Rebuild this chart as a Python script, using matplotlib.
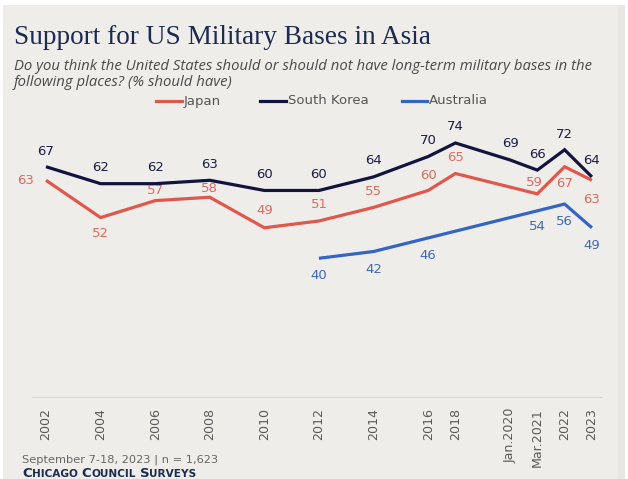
import matplotlib
matplotlib.use("Agg")
import matplotlib.pyplot as plt
from matplotlib.patches import Rectangle
from matplotlib.lines import Line2D

# ---------------- data ----------------
periods = ["2002", "2004", "2006", "2008", "2010", "2012", "2014", "2016",
           "2018", "Jan.2020", "Mar.2021", "2022", "2023"]
japan = [63, 52, 57, 58, 49, 51, 55, 60, 65, None, 59, 67, 63]
south_korea = [67, 62, 62, 63, 60, 60, 64, 70, 74, 69, 66, 72, 64]
australia = [None, None, None, None, None, 40, 42, 46, None, None, 54, 56, 49]

# axis positions (time-like spacing used in the original)
xpos = [0, 2, 4, 6, 8, 10, 12, 14, 15, 17, 18, 19, 20]

W, H = 628, 479
fig = plt.figure(figsize=(W / 100, H / 100), dpi=100)
fig.patch.set_facecolor("white")
BG = "#efedea"
fig.add_artist(Rectangle((3 / W, 0), (622 / W), (474 / H), transform=fig.transFigure,
                         facecolor=BG, edgecolor="none", zorder=0))
fig.add_artist(Rectangle((618 / W, 0), (7 / W), (474 / H), transform=fig.transFigure,
                         facecolor="#e9e7e3", edgecolor="none", zorder=0))

def px2fig(x, y):
    return x / W, 1 - y / H

# axes placement in pixels
ax_l, ax_r, ax_t, ax_b = 32, 602, 115, 397
ax = fig.add_axes([ax_l / W, 1 - ax_b / H, (ax_r - ax_l) / W, (ax_b - ax_t) / H])
ax.set_facecolor("none")
ax.set_xlim(-0.513, 20.37)
ax.set_ylim(-0.9, 82.25)
for s in ["top", "right", "left"]:
    ax.spines[s].set_visible(False)
ax.spines["bottom"].set_color("#d9d7d3")
ax.spines["bottom"].set_linewidth(0.8)
ax.set_yticks([])
ax.set_xticks(xpos)
ax.set_xticklabels(periods, rotation=90, fontsize=9.1, color="#5a5a5a",
                   family="DejaVu Sans", va="top")
ax.tick_params(axis="x", length=0, pad=8)

JP_C, SK_C, AU_C = "#e0574c", "#12143d", "#3464c4"
JP_T, SK_T, AU_T = "#e06a5f", "#1a1c45", "#3f68b5"

def series(vals):
    xs = [x for x, v in zip(xpos, vals) if v is not None]
    ys = [v for v in vals if v is not None]
    return xs, ys

for vals, c in [(australia, AU_C), (japan, JP_C), (south_korea, SK_C)]:
    xs, ys = series(vals)
    ax.plot(xs, ys, color=c, lw=2.3, solid_capstyle="butt", solid_joinstyle="miter", zorder=3)

# label offsets (pixels)
jp_off = [(-20, 0), (0, -16), (0, 10), (0, 9), (0, 17), (0, 16), (0, 16), (0, 15),
          (0, 16), None, (-3, 11), (0, -17), (0, -19)]
sk_off = [(0, 15), (0, 16), (0, 16), (0, 16), (0, 16), (0, 16), (0, 16), (0, 16),
          (0, 16), (0, 16), (0, 16), (0, 15), (0, 16)]
au_off = [None] * 5 + [(0, -17), (0, -18), (0, -18), None, None, (0, -16), (0, -17), (0, -18)]

LBL_FONT = "DejaVu Sans"
for vals, offs, c in [(japan, jp_off, JP_T), (south_korea, sk_off, SK_T), (australia, au_off, AU_T)]:
    for x, v, o in zip(xpos, vals, offs):
        if v is None or o is None:
            continue
        ax.annotate(str(v), (x, v), xytext=o, textcoords="offset pixels",
                    ha="center", va="center", fontsize=9.5, color=c,
                    family=LBL_FONT, zorder=4, annotation_clip=False)

# ---------------- titles ----------------
fig.text(*px2fig(14, 38), "Support for US Military Bases in Asia", fontsize=19.6,
         family="Liberation Serif", color="#1d2b4f", va="center", ha="left")
fig.text(*px2fig(14, 67), "Do you think the United States should or should not have long-term military bases in the",
         fontsize=10.7, family="Open Sans", style="italic", color="#4a4a4a", va="center", ha="left")
fig.text(*px2fig(14, 83), "following places? (% should have)",
         fontsize=10.7, family="Open Sans", style="italic", color="#4a4a4a", va="center", ha="left")

# legend
for (x0, x1, tx, lab, c) in [(156, 182, 184, "Japan", JP_C),
                              (260, 286, 288, "South Korea", SK_C),
                              (402, 427, 429, "Australia", AU_C)]:
    fx0, fy = px2fig(x0, 101)
    fx1, _ = px2fig(x1, 101)
    fig.add_artist(Line2D([fx0, fx1], [fy, fy], transform=fig.transFigure, color=c, lw=2.3))
    fig.text(*px2fig(tx, 101), lab, fontsize=9.5, family="DejaVu Sans", color="#555555",
             va="center", ha="left")

# footer
fig.text(*px2fig(22, 460), "September 7-18, 2023 | n = 1,623", fontsize=8.2,
         family="DejaVu Sans", color="#666666", va="center", ha="left")

# small caps "CHICAGO COUNCIL SURVEYS"
fig.canvas.draw()
renderer = fig.canvas.get_renderer()
xcur = 22
words = ["Chicago", "Council", "Surveys"]
for wi, w in enumerate(words):
    for part, size in [(w[0], 9.5), (w[1:].upper(), 7.6)]:
        t = fig.text(*px2fig(xcur, 477), part, fontsize=size, family="DejaVu Sans",
                     weight="bold", color="#1d2b4f", va="baseline", ha="left")
        bb = t.get_window_extent(renderer)
        xcur += bb.width
    xcur += 4

fig.savefig("out.png", dpi=100, facecolor="white")
